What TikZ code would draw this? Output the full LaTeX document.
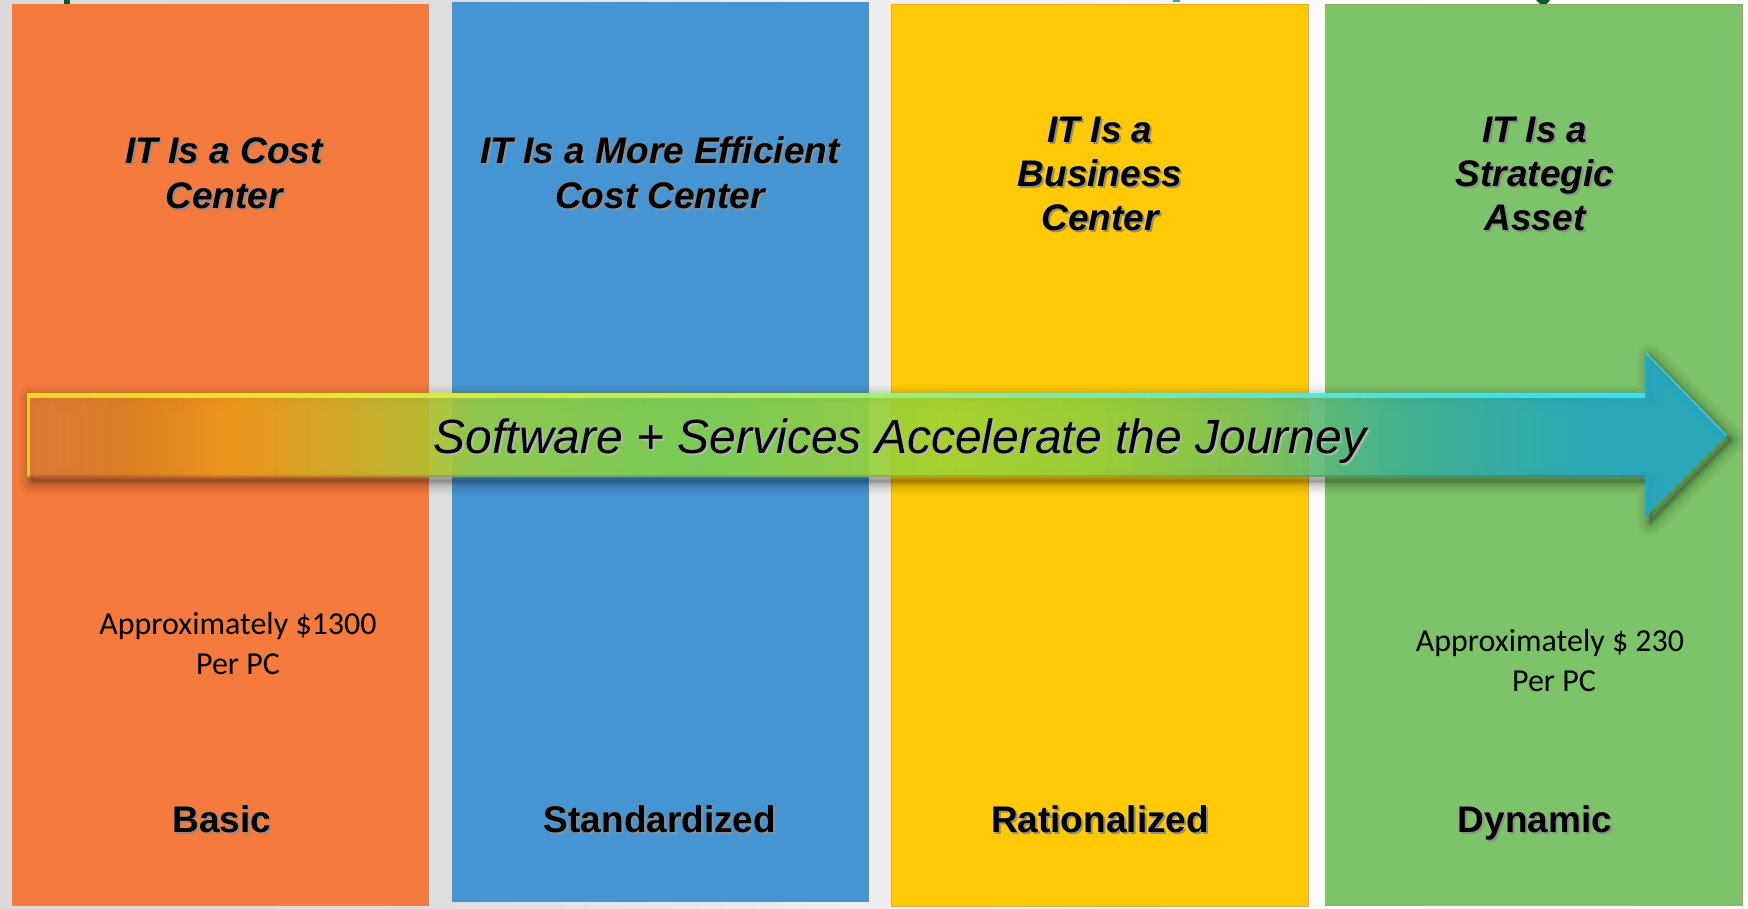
\documentclass[tikz,border=0pt]{standalone}
\usepackage{fontspec}
\setmainfont{Liberation Sans}
\newfontfamily\carlito{Carlito}
\definecolor{bgA}{HTML}{DADADA}
\definecolor{bgB}{HTML}{DEDEDE}
\definecolor{bgC}{HTML}{EEEEEE}
\definecolor{bgD}{HTML}{FBFBFB}
\definecolor{bgE}{HTML}{FDFDFD}
\definecolor{colOrange}{HTML}{F57A3E}
\definecolor{colBlue}{HTML}{4695D2}
\definecolor{colYellow}{HTML}{FFCA05}
\definecolor{colGreen}{HTML}{7DC369}
\definecolor{yelEdge}{HTML}{F4A81C}
\definecolor{grnEdge}{HTML}{B8905A}
\definecolor{txtsh}{HTML}{8E8E8E}
\definecolor{arrsh}{HTML}{B4B4B4}
\definecolor{titleGreen}{HTML}{0B5A2C}
\definecolor{titleTeal}{HTML}{3AA88E}
\definecolor{a0}{HTML}{E07A38}
\definecolor{a1}{HTML}{DC8024}
\definecolor{a2}{HTML}{F09A18}
\definecolor{a3}{HTML}{D6AE28}
\definecolor{a4}{HTML}{B4C230}
\definecolor{a5}{HTML}{96D044}
\definecolor{a6}{HTML}{82D24E}
\definecolor{a7}{HTML}{A2D632}
\definecolor{a8}{HTML}{94D03C}
\definecolor{a9}{HTML}{78C45C}
\definecolor{a10}{HTML}{3FB496}
\definecolor{a11}{HTML}{28AAB8}
\definecolor{a12}{HTML}{22A8C4}
\definecolor{h0}{HTML}{F6DC2A}
\definecolor{h1}{HTML}{E8EE3C}
\definecolor{h2}{HTML}{B8F068}
\definecolor{h3}{HTML}{60EAD8}
\definecolor{h4}{HTML}{3CE6F2}
\pgfdeclarehorizontalshading{bgshade}{100bp}{color(0bp)=(bgA); color(25bp)=(bgA); color(37.6bp)=(bgB); color(50bp)=(bgC); color(62.6bp)=(bgD); color(75bp)=(bgE); color(100bp)=(bgE)}
\pgfdeclarehorizontalshading{arrowshade}{100bp}{color(0bp)=(a0); color(25bp)=(a0); color(27.7bp)=(a1); color(31bp)=(a2); color(33.9bp)=(a3); color(36.8bp)=(a4); color(38.3bp)=(a5); color(44.8bp)=(a6); color(52.1bp)=(a7); color(56.5bp)=(a8); color(60.9bp)=(a9); color(65.4bp)=(a10); color(69.8bp)=(a11); color(72bp)=(a12); color(75bp)=(a12); color(100bp)=(a12)}
\pgfdeclarehorizontalshading{hlshade}{100bp}{color(0bp)=(h0); color(25bp)=(h0); color(35bp)=(h1); color(48bp)=(h2); color(62bp)=(h3); color(75bp)=(h4); color(100bp)=(h4)}
\newcommand\mkshtxt[5]{%
  \node[#2, text=txtsh] at (#3+2,#4+2) {#5};
  \node[#2] (#1) at (#3,#4) {#5};}
\begin{document}
\begin{tikzpicture}[x=1pt,y=-1pt,
  colbox/.style={rectangle, inner sep=0pt, outer sep=0pt, anchor=north west, minimum width=417pt},
  hdr/.style={font=\fontsize{37}{44}\selectfont\bfseries\itshape, anchor=base, inner sep=0pt},
  lvl/.style={font=\fontsize{37}{44}\selectfont\bfseries, anchor=base, inner sep=0pt},
  cost/.style={font=\carlito\fontsize{32}{38}\selectfont, anchor=base, inner sep=0pt},
  arrtxt/.style={font=\fontsize{48}{56}\selectfont\itshape, anchor=base, inner sep=0pt}]
\useasboundingbox (0,0) rectangle (1748,908);
\shade[shading=bgshade] (0,0) rectangle (1748,908);
% fragments of a cut-off title
\fill[titleGreen] (64,0) rectangle (70,5);
\fill[titleTeal] (1173,0) rectangle (1180,2);
\fill[titleGreen] (1536,0) -- (1550,0) -- (1546,5) -- (1541,5) -- cycle;
% columns
\node[colbox, fill=colOrange, minimum height=902pt] (c1) at (12,4) {};
\node[colbox, fill=colBlue, minimum height=900pt] (c2) at (452,2) {};
\node[colbox, fill=colYellow, draw=yelEdge, line width=1pt, minimum height=902pt] (c3) at (891,4) {};
\node[colbox, fill=colGreen, minimum height=902pt] (c4) at (1325,4) {};
\draw[grnEdge, line width=1pt] (c4.north west) -- (c4.north east) -- (c4.south east);
% headers
\mkshtxt{h1a}{hdr}{224}{163}{IT Is a Cost}
\mkshtxt{h1b}{hdr}{224}{208}{Center}
\mkshtxt{h2a}{hdr}{660}{163}{IT Is a More Efficient}
\mkshtxt{h2b}{hdr}{660}{208}{Cost Center}
\mkshtxt{h3a}{hdr}{1100}{142}{IT Is a}
\mkshtxt{h3b}{hdr}{1100}{186}{Business}
\mkshtxt{h3c}{hdr}{1100}{230}{Center}
\mkshtxt{h4a}{hdr}{1535}{142}{IT Is a}
\mkshtxt{h4b}{hdr}{1535}{186}{Strategic}
\mkshtxt{h4c}{hdr}{1535}{230}{Asset}
% costs
\node[cost] (k1a) at (238,634) {Approximately \$1300};
\node[cost] (k1b) at (238,674) {Per PC};
\node[cost] (k4a) at (1550,651) {Approximately \$ 230};
\node[cost] (k4b) at (1554,691) {Per PC};
% levels
\mkshtxt{l1}{lvl}{222}{832}{Basic}
\mkshtxt{l2}{lvl}{660}{832}{Standardized}
\mkshtxt{l3}{lvl}{1100}{832}{Rationalized}
\mkshtxt{l4}{lvl}{1535}{832}{Dynamic}
% arrow shadow (soft)
\foreach \w/\o in {26/0.03,20/0.035,15/0.045,10/0.055,6/0.065,3/0.075}
  \draw[line width=\w pt, draw=black, draw opacity=\o, line join=round]
    (31,398) -- (1650,398) -- (1650,357) -- (1732,440) -- (1650,523) -- (1650,482) -- (31,482) -- cycle;
\fill[black, opacity=0.15] (31,398) -- (1650,398) -- (1650,357) -- (1732,440) -- (1650,523) -- (1650,482) -- (31,482) -- cycle;
% arrow
\shade[shading=arrowshade, fill opacity=0.9]
  (27,393) -- (1645,393) -- (1645,351) -- (1728,435) -- (1645,518) -- (1645,477) -- (27,477) -- cycle;
\shade[shading=hlshade, opacity=0.9] (27,393) rectangle (1645,397);
\fill[h0, opacity=0.8] (27,393) rectangle (30,477);
\draw[white, opacity=0.25, line width=1.5pt] (1646,353) -- (1726,435);
\draw[black, opacity=0.12, line width=1.5pt] (27,476) -- (1645,476);
% arrow text
\node[arrtxt, text=arrsh] at (902,455) {Software + Services Accelerate the Journey};
\node[arrtxt] (journey) at (900,453) {Software + Services Accelerate the Journey};
\end{tikzpicture}
\end{document}
